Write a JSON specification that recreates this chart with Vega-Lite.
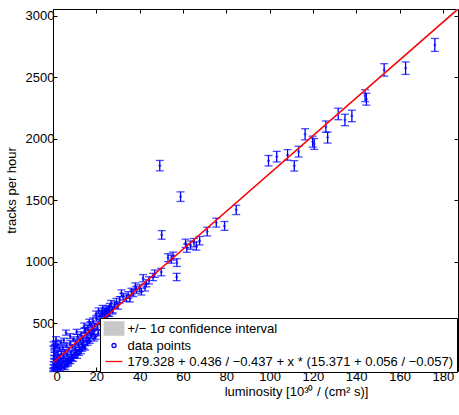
{
  "$schema": "https://vega.github.io/schema/vega-lite/v6.json",
  "width": 405,
  "height": 362,
  "autosize": "none",
  "padding": {"left": 53, "top": 9, "right": 1, "bottom": 44},
  "background": "white",
  "config": {
    "font": "Liberation Sans",
    "view": {"stroke": "black", "strokeWidth": 1},
    "legend": {"symbolFillColor": "#c8c8c8"},
    "axis": {"grid": false, "domain": false, "tickColor": "black", "tickSize": -4, "tickWidth": 1,
      "labelFont": "Liberation Sans", "labelFontSize": 13, "labelColor": "black",
      "titleFont": "Liberation Sans", "titleFontSize": 13, "titleFontWeight": "normal", "titleColor": "black"}
  },
  "datasets": {
    "pts": [
      {"x":176.3,"y":2762,"e":52.6},{"x":162.8,"y":2573,"e":50.7},{"x":152.9,"y":2559,"e":50.6},{"x":144.1,"y":2350,"e":48.5},
      {"x":144.7,"y":2321,"e":48.2},{"x":131.7,"y":2201,"e":46.9},{"x":134.8,"y":2152,"e":46.4},{"x":138.0,"y":2185,"e":46.7},
      {"x":126.0,"y":2098,"e":45.8},{"x":126.8,"y":2009,"e":44.8},{"x":119.9,"y":1976,"e":44.5},{"x":120.6,"y":1957,"e":44.2},
      {"x":116.4,"y":2036,"e":45.1},{"x":113.4,"y":1895,"e":43.5},{"x":108.3,"y":1868,"e":43.2},{"x":103.3,"y":1854,"e":43.1},
      {"x":99.5,"y":1821,"e":42.7},{"x":111.4,"y":1779,"e":42.2},
      {"x":49.3,"y":1781,"e":42.2},{"x":58.9,"y":1529,"e":39.1},{"x":50.2,"y":1218,"e":34.9},{"x":57.1,"y":876,"e":29.6},
      {"x":71.2,"y":1245,"e":35.3},{"x":75.4,"y":1318,"e":36.3},{"x":79.2,"y":1291,"e":35.9},{"x":84.6,"y":1421,"e":37.7},
      {"x":61.2,"y":1150,"e":33.9},{"x":61.8,"y":1110,"e":33.3},{"x":65.1,"y":1155,"e":34.0},{"x":66.2,"y":1128,"e":33.6},
      {"x":67.7,"y":1171,"e":34.2},{"x":63.5,"y":1135,"e":33.7},
      {"x":53.1,"y":1033,"e":32.1},{"x":54.6,"y":1020,"e":31.9},{"x":57.2,"y":993,"e":31.5},{"x":55.4,"y":1046,"e":32.3},
      {"x":50.0,"y":916,"e":30.3},{"x":47.0,"y":903,"e":30.0},{"x":46.2,"y":876,"e":29.6},{"x":44.3,"y":849,"e":29.1},
      {"x":41.6,"y":866,"e":29.4},{"x":43.1,"y":825,"e":28.7},{"x":40.1,"y":785,"e":28.0},{"x":38.5,"y":771,"e":27.8},
      {"x":37.0,"y":744,"e":27.3},{"x":36.2,"y":757,"e":27.5},{"x":34.7,"y":730,"e":27.0},{"x":32.4,"y":716,"e":26.8},
      {"x":30.8,"y":690,"e":26.3},{"x":29.3,"y":676,"e":26.0},{"x":28.5,"y":649,"e":25.5},{"x":26.2,"y":636,"e":25.2},
      {"x":24.7,"y":609,"e":24.7},{"x":23.9,"y":595,"e":24.4},{"x":22.4,"y":582,"e":24.1},{"x":31.6,"y":744,"e":27.3},
      {"x":33.9,"y":703,"e":26.5},{"x":40.8,"y":757,"e":27.5},{"x":35.5,"y":700,"e":26.5},{"x":38.0,"y":800,"e":28.3},
      {"x":42.5,"y":790,"e":28.1},{"x":27.5,"y":600,"e":24.5},{"x":30.0,"y":640,"e":25.3},{"x":25.5,"y":580,"e":24.1},
      {"x":0.2,"y":125,"e":11.2},{"x":0.4,"y":150,"e":12.2},{"x":0.3,"y":175,"e":13.2},{"x":0.6,"y":200,"e":14.1},
      {"x":0.5,"y":225,"e":15.0},{"x":0.8,"y":250,"e":15.8},{"x":0.7,"y":280,"e":16.7},{"x":1.0,"y":310,"e":17.6},
      {"x":1.2,"y":340,"e":18.4},{"x":1.4,"y":372,"e":19.3},{"x":1.1,"y":140,"e":11.8},{"x":1.3,"y":190,"e":13.8},
      {"x":1.6,"y":165,"e":12.8},{"x":1.8,"y":215,"e":14.7},{"x":2.0,"y":260,"e":16.1},{"x":2.2,"y":135,"e":11.6},
      {"x":2.4,"y":195,"e":14.0},{"x":2.7,"y":235,"e":15.3},{"x":3.0,"y":290,"e":17.0},{"x":3.3,"y":160,"e":12.6},
      {"x":3.6,"y":210,"e":14.5},{"x":3.9,"y":255,"e":16.0},{"x":4.2,"y":180,"e":13.4},{"x":4.5,"y":300,"e":17.3},
      {"x":4.8,"y":230,"e":15.2},{"x":5.1,"y":150,"e":12.2},{"x":5.4,"y":270,"e":16.4},{"x":5.8,"y":200,"e":14.1},
      {"x":6.0,"y":424,"e":20.6},{"x":6.2,"y":320,"e":17.9},{"x":6.5,"y":245,"e":15.7},{"x":6.9,"y":175,"e":13.2},
      {"x":7.2,"y":290,"e":17.0},{"x":7.6,"y":220,"e":14.8},{"x":8.0,"y":340,"e":18.4},{"x":8.3,"y":260,"e":16.1},
      {"x":8.7,"y":210,"e":14.5},{"x":9.1,"y":310,"e":17.6},{"x":9.5,"y":370,"e":19.2},{"x":9.8,"y":250,"e":15.8},
      {"x":10.2,"y":300,"e":17.3},{"x":10.6,"y":345,"e":18.6},{"x":11.0,"y":270,"e":16.4},{"x":11.4,"y":390,"e":19.7},
      {"x":11.8,"y":320,"e":17.9},{"x":12.2,"y":290,"e":17.0},{"x":12.6,"y":360,"e":19.0},{"x":13.0,"y":410,"e":20.2},
      {"x":13.4,"y":330,"e":18.2},{"x":13.8,"y":380,"e":19.5},{"x":14.2,"y":310,"e":17.6},{"x":14.6,"y":440,"e":21.0},
      {"x":15.0,"y":445,"e":21.1},{"x":15.5,"y":360,"e":19.0},{"x":15.7,"y":400,"e":20.0},{"x":16.1,"y":460,"e":21.4},
      {"x":16.5,"y":370,"e":19.2},{"x":16.9,"y":430,"e":20.7},{"x":17.3,"y":490,"e":22.1},{"x":17.7,"y":400,"e":20.0},
      {"x":18.1,"y":460,"e":21.4},{"x":18.5,"y":520,"e":22.8},{"x":18.9,"y":430,"e":20.7},{"x":19.3,"y":480,"e":21.9},
      {"x":19.7,"y":390,"e":19.7},{"x":20.1,"y":540,"e":23.2},{"x":20.5,"y":470,"e":21.7},{"x":20.9,"y":420,"e":20.5},
      {"x":21.3,"y":510,"e":22.6},{"x":21.7,"y":560,"e":23.7},{"x":22.1,"y":470,"e":21.7},{"x":22.6,"y":530,"e":23.0},
      {"x":23.0,"y":580,"e":24.1},{"x":23.5,"y":500,"e":22.4},{"x":24.0,"y":550,"e":23.5},{"x":24.5,"y":600,"e":24.5},
      {"x":25.0,"y":540,"e":23.2},{"x":25.6,"y":620,"e":24.9},{"x":26.0,"y":580,"e":24.1},{"x":26.8,"y":660,"e":25.7},
      {"x":27.5,"y":610,"e":24.7},
      {"x":5.5,"y":135,"e":11.6},{"x":7.0,"y":165,"e":12.8},{"x":10.0,"y":235,"e":15.3},{"x":13.5,"y":290,"e":17.0},
      {"x":16.0,"y":340,"e":18.4},{"x":19.0,"y":375,"e":19.4},
      {"x":0.1,"y":118,"e":10.9},{"x":0.9,"y":130,"e":11.4},{"x":1.5,"y":155,"e":12.4},{"x":2.5,"y":145,"e":12.0},
      {"x":2.9,"y":175,"e":13.2},{"x":3.4,"y":125,"e":11.2},{"x":4.0,"y":140,"e":11.8},{"x":4.6,"y":195,"e":14.0},
      {"x":5.9,"y":160,"e":12.6},{"x":6.7,"y":205,"e":14.3},{"x":7.4,"y":190,"e":13.8},{"x":8.1,"y":185,"e":13.6},
      {"x":8.9,"y":230,"e":15.2},{"x":9.3,"y":205,"e":14.3},{"x":10.4,"y":260,"e":16.1},{"x":11.2,"y":230,"e":15.2},
      {"x":12.0,"y":255,"e":16.0},{"x":12.9,"y":270,"e":16.4},{"x":14.0,"y":345,"e":18.6},{"x":14.8,"y":300,"e":17.3},
      {"x":17.0,"y":355,"e":18.8},{"x":18.0,"y":420,"e":20.5},{"x":0.2,"y":330,"e":18.2},{"x":0.5,"y":300,"e":17.3},
      {"x":2.1,"y":320,"e":17.9},{"x":3.7,"y":345,"e":18.6},{"x":5.0,"y":360,"e":19.0},{"x":7.9,"y":395,"e":19.9},
      {"x":10.9,"y":430,"e":20.7},{"x":14.4,"y":480,"e":21.9},{"x":16.7,"y":510,"e":22.6},{"x":19.9,"y":575,"e":24.0},
      {"x":22.9,"y":620,"e":24.9},{"x":21.0,"y":600,"e":24.5}
    ],
    "band": [
      {"x": 0, "lo": 178.891, "hi": 179.764, "fit": 179.328},
      {"x": 187, "lo": 3042.6, "hi": 3064.6, "fit": 3053.7}
    ],
    "series": [
      {"series": "+/− 1σ confidence interval"},
      {"series": "data points"},
      {"series": "179.328 + 0.436 / −0.437 + x * (15.371 + 0.056 / −0.057)"}
    ]
  },
  "layer": [
    {
      "data": {"name": "pts"},
      "mark": {"type": "errorbar", "ticks": {"color": "#0000ff"}, "rule": {"color": "#0000ff"}, "size": 8, "thickness": 1.3},
      "encoding": {
        "x": {"field": "x", "type": "quantitative",
          "scale": {"domain": [0, 187], "nice": false, "zero": false},
          "axis": {"values": [0, 20, 40, 60, 80, 100, 120, 140, 160, 180], "title": "luminosity  [10³⁰ / (cm² s)]", "labelPadding": 3, "titlePadding": 2, "titleX": 243}},
        "y": {"field": "y", "type": "quantitative",
          "scale": {"domain": [112, 3054], "nice": false, "zero": false},
          "axis": {"values": [500, 1000, 1500, 2000, 2500, 3000], "format": "d", "title": "tracks per hour", "labelPadding": 3, "titlePadding": 7}},
        "yError": {"field": "e"}
      }
    },
    {
      "data": {"name": "pts"},
      "mark": {"type": "point", "filled": false, "size": 4, "strokeWidth": 1, "color": "#0000ff"},
      "encoding": {
        "x": {"field": "x", "type": "quantitative", "axis": null},
        "y": {"field": "y", "type": "quantitative", "axis": null}
      }
    },
    {
      "data": {"name": "band"},
      "mark": {"type": "area", "clip": true, "color": "#c8c8c8"},
      "encoding": {
        "x": {"field": "x", "type": "quantitative",
          "axis": {"orient": "top", "values": [0, 20, 40, 60, 80, 100, 120, 140, 160, 180], "labels": false, "title": null}},
        "y": {"field": "lo", "type": "quantitative",
          "axis": {"orient": "right", "values": [500, 1000, 1500, 2000, 2500, 3000], "labels": false, "title": null}},
        "y2": {"field": "hi"}
      }
    },
    {
      "data": {"name": "band"},
      "mark": {"type": "line", "clip": true, "strokeWidth": 1.5, "color": "#ff0000"},
      "encoding": {
        "x": {"field": "x", "type": "quantitative", "axis": null},
        "y": {"field": "fit", "type": "quantitative", "axis": null}
      }
    },
    {
      "data": {"name": "series"},
      "mark": {"type": "point", "opacity": 0, "filled": true},
      "encoding": {
        "fill": {"field": "series", "type": "nominal",
          "scale": {"domain": ["+/− 1σ confidence interval", "data points", "179.328 + 0.436 / −0.437 + x * (15.371 + 0.056 / −0.057)"], "range": ["#c8c8c8", "transparent", "transparent"]},
          "legend": {
            "title": null, "orient": "none", "legendX": 47, "legendY": 309,
            "strokeColor": "black", "fillColor": "white", "padding": 3,
            "labelFont": "Liberation Sans", "labelFontSize": 13, "labelColor": "black", "labelLimit": 0,
            "symbolOffset": 3.5, "labelOffset": 6, "rowPadding": 1, "symbolOpacity": 1, "symbolStrokeWidth": 1.3
          }},
        "stroke": {"field": "series", "type": "nominal",
          "scale": {"domain": ["+/− 1σ confidence interval", "data points", "179.328 + 0.436 / −0.437 + x * (15.371 + 0.056 / −0.057)"], "range": ["#c8c8c8", "#0000ff", "#ff0000"]}},
        "shape": {"field": "series", "type": "nominal",
          "scale": {"domain": ["+/− 1σ confidence interval", "data points", "179.328 + 0.436 / −0.437 + x * (15.371 + 0.056 / −0.057)"], "range": ["M-1.5,-1H1.5V1H-1.5Z", "circle", "M-1.3,0H1.3"]}},
        "size": {"field": "series", "type": "nominal",
          "scale": {"type": "ordinal", "domain": ["+/− 1σ confidence interval", "data points", "179.328 + 0.436 / −0.437 + x * (15.371 + 0.056 / −0.057)"], "range": [169, 16, 169]}}
      }
    }
  ],
  "resolve": {"axis": {"x": "independent", "y": "independent"}}
}
